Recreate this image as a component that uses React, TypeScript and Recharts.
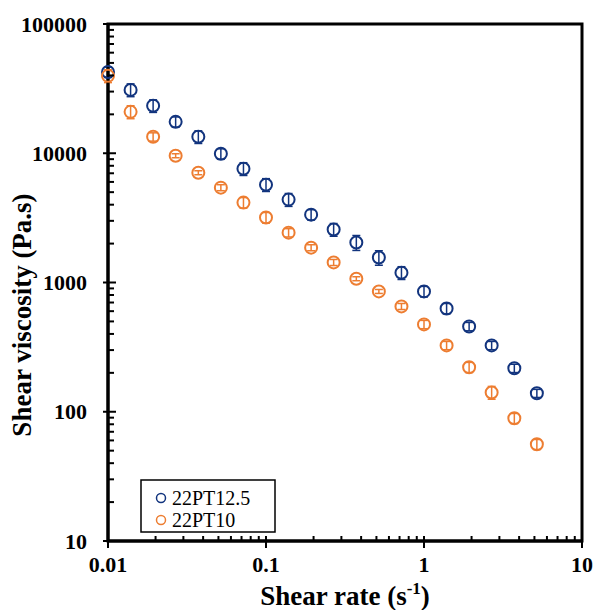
import React from 'react';
import { ScatterChart, Scatter, XAxis, YAxis, ErrorBar, ReferenceArea } from 'recharts';

const shearRate = [0.01, 0.0139, 0.0193, 0.0268, 0.0373, 0.0518, 0.072, 0.1, 0.139, 0.193, 0.268, 0.373, 0.518, 0.72, 1, 1.39, 1.93, 2.68, 3.73, 5.18];
const visc125 = [42500, 30900, 23300, 17500, 13400, 9900, 7590, 5710, 4380, 3350, 2570, 2040, 1560, 1190, 853, 630, 457, 326, 217, 139];
const err125 = [3900, 3500, 2600, 1600, 1500, 920, 860, 650, 500, 310, 290, 270, 200, 135, 80, 58, 34, 24, 16, 10];
const visc10 = [39700, 20900, 13400, 9570, 7070, 5420, 4150, 3180, 2430, 1860, 1430, 1070, 853, 653, 474, 326, 221, 141, 89, 56];
const err10 = [4500, 2400, 990, 340, 250, 290, 390, 300, 180, 100, 77, 38, 30, 35, 35, 24, 20, 16, 8, 5];

const seriesNames = ['22PT12.5', '22PT10'];
const seriesColors = ['#12347E', '#ED7D31'];

const xMajor = [0.01, 0.1, 1, 10];
const yMajor = [10, 100, 1000, 10000, 100000];
const minorMult = [2, 3, 4, 5, 6, 7, 8, 9];

const xTicks: number[] = [];
xMajor.forEach((d, i) => {
  xTicks.push(d);
  if (i < xMajor.length - 1) minorMult.forEach((m) => xTicks.push(m * d));
});
const yTicks: number[] = [];
yMajor.forEach((d, i) => {
  yTicks.push(d);
  if (i < yMajor.length - 1) minorMult.forEach((m) => yTicks.push(m * d));
});

const data125 = shearRate.map((x, i) => ({ x, y: visc125[i], err: err125[i] }));
const data10 = shearRate.map((x, i) => ({ x, y: visc10[i], err: err10[i] }));

const FONT = 'Liberation Serif, Times New Roman, serif';

const XTick = (props: any) => {
  const { x, y, payload } = props;
  const v = payload.value;
  const major = xMajor.includes(v);
  if (major) {
    return (
      <g>
        <line x1={x} x2={x} y1={y - 5} y2={y + 7} stroke="#000" strokeWidth={2} />
        <text x={x} y={y + 23} textAnchor="middle" dominantBaseline="central" fontFamily={FONT} fontWeight="bold" fontSize={22} fill="#000">
          {String(v)}
        </text>
      </g>
    );
  }
  return <line x1={x} x2={x} y1={y} y2={y - 5} stroke="#000" strokeWidth={2} />;
};

const YTick = (props: any) => {
  const { x, y, payload } = props;
  const v = payload.value;
  const major = yMajor.includes(v);
  if (major) {
    return (
      <g>
        <line x1={x - 5} x2={x + 8} y1={y} y2={y} stroke="#000" strokeWidth={2} />
        <text x={x - 21} y={y} textAnchor="end" dominantBaseline="central" fontFamily={FONT} fontWeight="bold" fontSize={22} fill="#000">
          {String(v)}
        </text>
      </g>
    );
  }
  return <line x1={x} x2={x + 6} y1={y} y2={y} stroke="#000" strokeWidth={2} />;
};

const makeShape = (color: string) => (props: any) => {
  const { cx, cy } = props;
  if (cx == null || cy == null) return <g />;
  return <circle cx={cx} cy={cy} r={6} fill="none" stroke={color} strokeWidth={2} />;
};

const XLabel = (props: any) => {
  const vb = props.viewBox;
  const cx = vb.x + vb.width / 2;
  return (
    <text x={cx} y={605} textAnchor="middle" fontFamily={FONT} fontWeight="bold" fontSize={27} fill="#000">
      <tspan>Shear rate (s</tspan>
      <tspan dy={-11} fontSize={17}>-1</tspan>
      <tspan dy={11}>)</tspan>
    </text>
  );
};

const YLabel = () => {
  const x = 31;
  const y = 315;
  return (
    <text x={x} y={y} transform={`rotate(-90, ${x}, ${y})`} textAnchor="middle" fontFamily={FONT} fontWeight="bold" fontSize={27} fill="#000">
      Shear viscosity (Pa.s)
    </text>
  );
};

export default function App() {
  return (
    <div style={{ position: 'absolute', left: 0, top: 0, width: 595, height: 610, background: '#fff' }}>
      <ScatterChart width={595} height={610} margin={{ top: 24, right: 13, bottom: 29, left: 18 }}>
        <XAxis
          dataKey="x"
          type="number"
          scale="log"
          domain={[0.01, 10]}
          ticks={xTicks}
          interval={0}
          tickSize={0}
          tickMargin={0}
          tickLine={false}
          axisLine={{ stroke: '#000', strokeWidth: 3 }}
          tick={<XTick />}
          height={40}
          label={<XLabel />}
        />
        <YAxis
          dataKey="y"
          type="number"
          scale="log"
          domain={[10, 100000]}
          ticks={yTicks}
          interval={0}
          tickSize={0}
          tickMargin={0}
          tickLine={false}
          axisLine={{ stroke: '#000', strokeWidth: 3 }}
          tick={<YTick />}
          width={90}
          label={<YLabel />}
        />
        <ReferenceArea x1={0.01} x2={10} y1={10} y2={100000} fill="none" stroke="#000" strokeWidth={3} />
        <Scatter name={seriesNames[0]} data={data125} shape={makeShape(seriesColors[0])} isAnimationActive={false}>
          <ErrorBar dataKey="err" direction="y" width={4} stroke={seriesColors[0]} strokeWidth={1.5} isAnimationActive={false} />
        </Scatter>
        <Scatter name={seriesNames[1]} data={data10} shape={makeShape(seriesColors[1])} isAnimationActive={false}>
          <ErrorBar dataKey="err" direction="y" width={4} stroke={seriesColors[1]} strokeWidth={1.5} isAnimationActive={false} />
        </Scatter>
      </ScatterChart>
      <svg width={136} height={54} style={{ position: 'absolute', left: 140, top: 479 }}>
        <rect x={1} y={1} width={134} height={52} fill="#fff" stroke="#000" strokeWidth={1.5} />
        {seriesNames.map((n, i) => (
          <g key={n}>
            <circle cx={21} cy={19 + i * 22} r={4.5} fill="none" stroke={seriesColors[i]} strokeWidth={1.5} />
            <text x={32} y={19 + i * 22} dominantBaseline="central" fontFamily={FONT} fontWeight={400} fontSize={20} fill="#000">
              {n}
            </text>
          </g>
        ))}
      </svg>
    </div>
  );
}
